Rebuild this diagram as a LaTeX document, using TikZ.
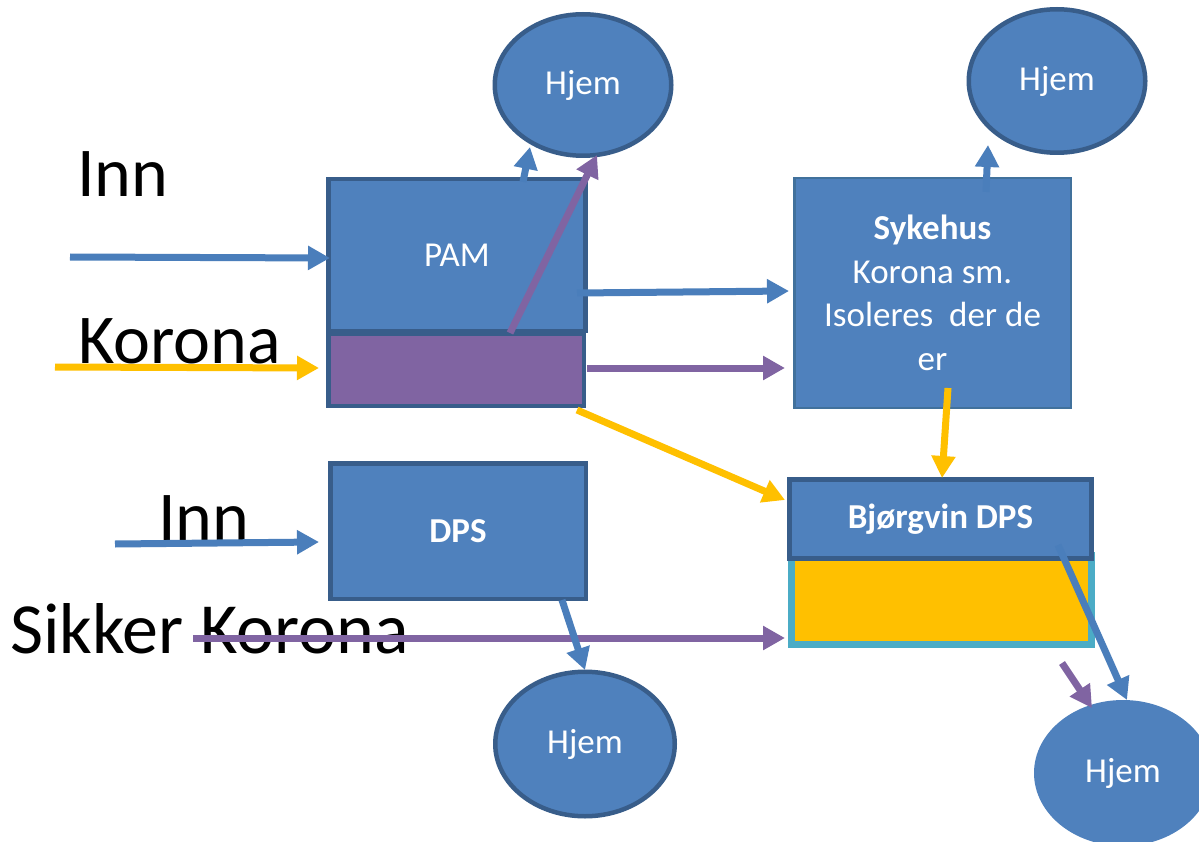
\documentclass[tikz,border=0pt]{standalone}
\usepackage{fontspec}
\setmainfont{Carlito}
\usetikzlibrary{arrows.meta,shapes.geometric}
\definecolor{bfill}{HTML}{4F81BD}
\definecolor{bdark}{HTML}{385D8A}
\definecolor{bthin}{HTML}{41719C}
\definecolor{abl}{HTML}{4A7EBB}
\definecolor{pur}{HTML}{8064A2}
\definecolor{yel}{HTML}{FFC000}
\definecolor{teal}{HTML}{4BACC6}
\tikzset{
  bigtxt/.style={anchor=base west, inner sep=0pt, font=\fontsize{70}{84}\selectfont, text=black},
  box/.style={rectangle, draw=bdark, fill=bfill, line width=4.5pt, inner sep=0pt, text=white, font=\fontsize{35}{43.5}\selectfont},
  hjem/.style={ellipse, draw=bdark, fill=bfill, line width=4.5pt, inner sep=0pt, text=white, font=\fontsize{35}{42}\selectfont},
  arr/.style={line width=7pt, -{Triangle[length=22pt,width=23pt]}},
}
\begin{document}
\begin{tikzpicture}[x=1pt,y=-1pt]
\useasboundingbox[fill=white] (0,0) rectangle (1199,842);
% big labels
\node[bigtxt] (inn1) at (77,197) {Inn};
\node[bigtxt] (kor1) at (78,363) {Korona};
\node[bigtxt] (inn2) at (158,540) {Inn};
\node[bigtxt, font=\fontsize{72}{86}\selectfont] (sik) at (10,653) {Sikker Korona};
% boxes
\node[box, minimum width=257pt, minimum height=151.5pt] (pam) at (457,255) {PAM};
\node[box, fill=pur, minimum width=255.5pt, minimum height=72.5pt] (pamk) at (456,369.5) {};
\node[box, draw=bthin, line width=2.5pt, minimum width=276.5pt, minimum height=229.5pt, align=center] (syk) at (932.5,293)
  {\textbf{Sykehus}\\Korona sm.\\Isoleres~ der de\\er};
\node[box, minimum width=255.5pt, minimum height=135.5pt] (dps) at (458,531) {\textbf{DPS}};
\node[rectangle, draw=teal, fill=yel, line width=7pt, minimum width=300pt, minimum height=89pt] (bjy) at (941.5,600) {};
\node[box, line width=5pt, minimum width=302pt, minimum height=79pt] (bjo) at (940.5,519) {\textbf{Bjørgvin DPS}};
% ellipses
\node[hjem, minimum width=176.5pt, minimum height=141.5pt] (h1) at (583,85) {Hjem};
\node[hjem, minimum width=176.5pt, minimum height=143.5pt] (h2) at (1057,81) {Hjem};
\node[hjem, minimum width=179.5pt, minimum height=144.5pt] (h3) at (585,744) {Hjem};
\node[hjem, draw=none, minimum width=178pt, minimum height=146pt] (h4) at (1123,773) {Hjem};
% connector end points
\coordinate (a1s) at (70,257);   \coordinate (a1e) at (330,258);
\coordinate (a2s) at (55,367);   \coordinate (a2e) at (319,368);
\coordinate (a3s) at (523,182);  \coordinate (a3e) at (530,147);
\coordinate (a4s) at (510,333);  \coordinate (a4e) at (597,155);
\coordinate (a5s) at (577,293);  \coordinate (a5e) at (789,291);
\coordinate (a6s) at (587,368);  \coordinate (a6e) at (785,368);
\coordinate (a7s) at (577,410);  \coordinate (a7e) at (785,500);
\coordinate (a8s) at (986,192);  \coordinate (a8e) at (988,145);
\coordinate (a9s) at (948,388);  \coordinate (a9e) at (942,478);
\coordinate (a10s) at (115,544); \coordinate (a10e) at (319,542);
\coordinate (a11s) at (193,638); \coordinate (a11e) at (785,638);
\coordinate (a12s) at (562,600); \coordinate (a12e) at (585,670);
\coordinate (a13s) at (1062,663);\coordinate (a13e) at (1092,708);
\coordinate (a14s) at (1058,545);\coordinate (a14e) at (1127,700);
% connectors
\draw[arr, abl] (a1s) -- (a1e);
\draw[arr, yel] (a2s) -- (a2e);
\draw[arr, abl] (a3s) -- (a3e);
\draw[arr, pur] (a4s) -- (a4e);
\draw[arr, abl] (a5s) -- (a5e);
\draw[arr, pur] (a6s) -- (a6e);
\draw[arr, yel] (a7s) -- (a7e);
\draw[arr, abl] (a8s) -- (a8e);
\draw[arr, yel] (a9s) -- (a9e);
\draw[arr, abl] (a10s) -- (a10e);
\draw[arr, pur] (a11s) -- (a11e);
\draw[arr, abl] (a12s) -- (a12e);
\draw[arr, pur] (a13s) -- (a13e);
\draw[arr, abl] (a14s) -- (a14e);
\end{tikzpicture}
\end{document}
